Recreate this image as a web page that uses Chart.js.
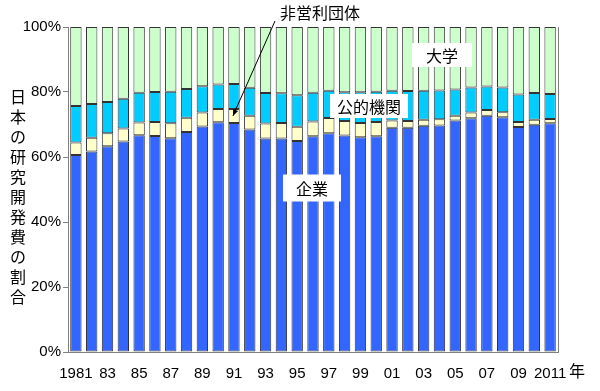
<!DOCTYPE html>
<html>
<head>
<meta charset="utf-8">
<script src="https://cdn.jsdelivr.net/npm/chart.js@4/dist/chart.umd.min.js"></script>
<style>
  html, body { margin: 0; padding: 0; background: #fff; }
  #wrap { width: 600px; height: 391px; position: relative; }
</style>
</head>
<body>
<div id="wrap"><canvas id="rdChart" width="600" height="391"></canvas></div>
<script>
// years and axis labels
const years = [];
for (let y = 1981; y <= 2011; y++) years.push(y);
const yearLabels = ['1981','','83','','85','','87','','89','','91','','93','','95','','97','','99','',
                    '01','','03','','05','','07','','09','','2011'];

// shares (%)
const kigyo   = [60.6,61.7,63.3,64.8,66.7,66.5,65.8,67.7,69.4,70.7,70.5,68.5,65.7,65.7,64.9,66.4,
                 67.3,66.6,66.1,66.4,69.0,69.0,69.6,69.7,71.2,71.9,72.7,72.2,69.2,69.9,70.4];
const hieiri  = [3.9,4.2,4.0,4.0,3.9,4.3,4.6,4.4,4.3,4.1,4.3,4.2,4.6,4.8,4.4,4.5,
                 4.7,4.5,4.4,4.4,2.2,2.1,1.9,1.9,1.5,1.8,1.8,1.6,1.6,1.6,1.3];
const koteki  = [11.2,10.4,9.6,9.1,9.2,9.2,9.7,8.8,8.1,7.5,7.7,8.6,9.4,9.1,9.7,8.9,
                 8.4,8.8,9.4,9.3,9.2,9.2,8.9,8.9,8.1,7.7,7.2,7.6,8.4,8.2,7.7];
const daigaku = [24.3,23.7,23.1,22.1,20.2,20.0,19.9,19.1,18.2,17.7,17.5,18.7,20.3,20.4,21.0,20.2,
                 19.6,20.1,20.1,19.9,19.6,19.7,19.6,19.5,19.2,18.6,18.3,18.6,20.8,20.3,20.6];
const yTicks = [0, 20, 40, 60, 80, 100];

const jpFont = '"Noto Sans CJK JP", sans-serif';

// labels, arrow and axis title drawn over the chart
const overlay = {
    id: 'overlay',
    afterDraw(chart) {
        const ctx = chart.ctx;
        const xs = chart.scales.x, ys = chart.scales.y;
        const area = chart.chartArea;
        ctx.save();

        // right frame line
        ctx.strokeStyle = '#808080';
        ctx.lineWidth = 1;
        ctx.beginPath();
        ctx.moveTo(area.right + 0.5, area.top);
        ctx.lineTo(area.right + 0.5, area.bottom);
        ctx.stroke();

        ctx.font = '16px ' + jpFont;
        ctx.textAlign = 'center';
        ctx.textBaseline = 'middle';

        function box(text, cx, cy, w, h) {
            ctx.fillStyle = '#fff';
            ctx.fillRect(cx - w / 2, cy - h / 2, w, h);
            ctx.fillStyle = '#000';
            ctx.fillText(text, cx, cy + 1);
        }
        box('大学', 442, 55, 60, 24);
        box('公的機関', 369, 106, 78, 24);
        box('企業', 312, 188, 58, 27);

        // 非営利団体 with arrow to 1991 bar
        ctx.fillStyle = '#000';
        ctx.fillText('非営利団体', 320, 13);
        const i91 = years.indexOf(1991);
        const tx = xs.getPixelForValue(i91) - 1;
        const ty = ys.getPixelForValue(kigyo[i91] + hieiri[i91] / 2);
        const sx = 275, sy = 21;
        ctx.strokeStyle = '#000';
        ctx.lineWidth = 1;
        ctx.beginPath();
        ctx.moveTo(sx, sy);
        ctx.lineTo(tx, ty);
        ctx.stroke();
        const ang = Math.atan2(ty - sy, tx - sx);
        ctx.beginPath();
        ctx.moveTo(tx, ty);
        ctx.lineTo(tx - 7 * Math.cos(ang - 0.4), ty - 7 * Math.sin(ang - 0.4));
        ctx.lineTo(tx - 7 * Math.cos(ang + 0.4), ty - 7 * Math.sin(ang + 0.4));
        ctx.closePath();
        ctx.fill();

        // vertical y title
        const title = '日本の研究開発費の割合';
        for (let k = 0; k < title.length; k++) {
            ctx.fillText(title[k], 18, 97 + k * 20);
        }

        // 年
        ctx.fillText('年', 577, 371);
        ctx.restore();
    }
};

const barStyle = { borderColor: '#333333', borderWidth: 1, borderSkipped: false,
                   barPercentage: 0.72, categoryPercentage: 1.0 };

new Chart(document.getElementById('rdChart').getContext('2d'), {
    type: 'bar',
    data: {
        labels: yearLabels,
        datasets: [
            Object.assign({ label: '企業', data: kigyo, backgroundColor: '#3366FF' }, barStyle),
            Object.assign({ label: '非営利団体', data: hieiri, backgroundColor: '#FFFFCC' }, barStyle),
            Object.assign({ label: '公的機関', data: koteki, backgroundColor: '#00CCFF' }, barStyle),
            Object.assign({ label: '大学', data: daigaku, backgroundColor: '#CCFFCC' }, barStyle)
        ]
    },
    options: {
        responsive: false,
        animation: false,
        layout: { padding: { top: 27, right: 42, left: 0, bottom: 0 } },
        plugins: {
            legend: { display: false },
            tooltip: { enabled: false }
        },
        scales: {
            x: {
                stacked: true,
                grid: { display: false },
                border: { color: '#808080' },
                ticks: {
                    autoSkip: false, maxRotation: 0, minRotation: 0,
                    color: '#000', padding: 5,
                    font: { family: '"Liberation Sans Narrow", "Liberation Sans", Arial', size: 15 }
                },
                afterFit(s) { s.height = 39; }
            },
            y: {
                stacked: true,
                min: 0, max: 100,
                afterBuildTicks(s) { s.ticks = yTicks.map(v => ({ value: v })); },
                grid: { drawOnChartArea: false, tickLength: 5, color: '#808080' },
                border: { color: '#808080' },
                ticks: {
                    color: '#000', padding: 2,
                    font: { family: '"Liberation Sans Narrow", "Liberation Sans", Arial', size: 15 },
                    callback: v => v + '%'
                },
                afterFit(s) { s.width = 68; }
            }
        }
    },
    plugins: [overlay]
});
</script>
</body>
</html>
